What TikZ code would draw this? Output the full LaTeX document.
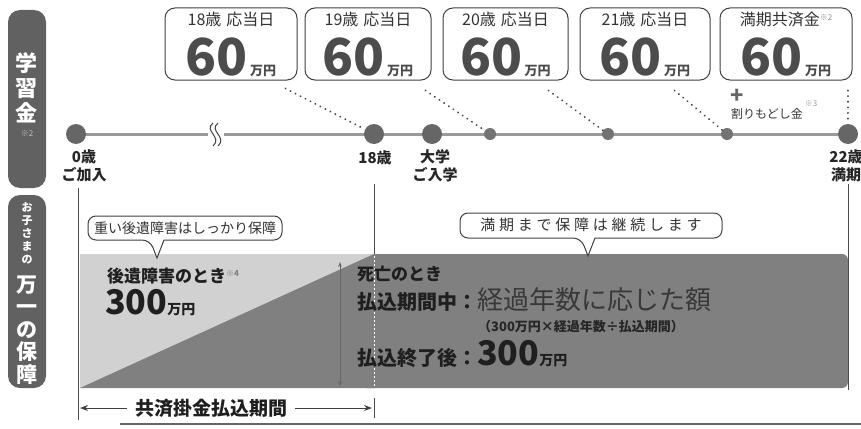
\documentclass[tikz,border=0pt]{standalone}
\usepackage{fontspec}
\setmainfont{Noto Sans CJK JP}
\usetikzlibrary{arrows.meta,backgrounds,calc}
\newcommand{\fs}[1]{\fontsize{#1}{#1}\selectfont}
\begin{document}
\begin{tikzpicture}[x=1pt,y=-1pt,
  tab/.style={fill=black!62, rounded corners=12pt},
  ybox/.style={draw=black!75, line width=1pt, rounded corners=10pt, fill=white, minimum height=72pt, inner sep=0},
  dot/.style={circle, fill=black!60, inner sep=0, minimum size=20pt},
  sdot/.style={circle, fill=black!55, inner sep=0, minimum size=12pt},
  dots/.style={black!75, line width=2pt, line cap=round, dash pattern=on 0.1pt off 5.5pt},
  vline/.style={black!70, line width=0.8pt},
  tl/.style={font=\fontsize{15}{18}\selectfont\bfseries, text=black!85, align=center, inner sep=0},
  bubble/.style={draw=black!75, line width=1pt, fill=white},
  boxlab/.style={font=\fs{16}, text=black!80, inner sep=0, text height=12pt, text depth=2pt},
  boxval/.style={inner sep=0, text=black!70, anchor=base, text height=36pt, text depth=0pt},
]
\useasboundingbox (0,0) rectangle (861,428);

% side tabs
\path[tab] (8,10) rectangle (46,188);
\node[font=\fontsize{22}{25}\selectfont\bfseries, text=white, align=center, inner sep=0] (tabA) at (27,88) {学\\習\\金};
\node[font=\fs{8}, text=black!25, inner sep=0] (tabAn) at (27,134) {※2};
\path[tab] (8,195) rectangle (46,388);
\node[font=\fontsize{11}{13}\selectfont\bfseries, text=white, align=center, inner sep=0] (tabB1) at (27,233) {お\\子\\さ\\ま\\の};
\node[font=\fontsize{21}{22.5}\selectfont\bfseries, text=white, align=center, inner sep=0] (tabB2) at (27,330) {万\\一\\の\\保\\障};

% top boxes
\node[ybox, minimum width=132pt] (b1) at (231,44) {};
\node[ybox, minimum width=126pt] (b2) at (368,44) {};
\node[ybox, minimum width=125pt] (b3) at (505.5,44) {};
\node[ybox, minimum width=130pt] (b4) at (645,44) {};
\node[ybox, minimum width=132pt] (b5) at (786,44) {};
\foreach \b/\t in {b1/18歳\hspace{5pt}応当日, b2/19歳\hspace{5pt}応当日, b3/20歳\hspace{5pt}応当日, b4/21歳\hspace{5pt}応当日}{
  \node[boxlab] (\b t) at ([yshift=-13pt]\b.north) {\t};
  \node[boxval] (\b v) at ([yshift=-31pt]\b.center) {\fs{51}\bfseries 60\fs{13}\,万円};
}
\node[boxlab] (b5t) at ([yshift=-13pt]b5.north) {満期共済金\raisebox{5pt}{\fs{8}\color{black!45}※2}};
\node[boxval] (b5v) at ([yshift=-31pt]b5.center) {\fs{51}\bfseries 60\fs{13}\,万円};

% timeline
\node[dot] (c0) at (76,134) {};
\node[dot] (c18) at (374,134) {};
\node[dot] (cU) at (432,134) {};
\node[sdot] (c19) at (490,134) {};
\node[sdot] (c20) at (608,134) {};
\node[sdot] (c21) at (727,134) {};
\node[dot] (c22) at (848,134) {};
\begin{scope}[on background layer]
  \draw[black!40, line width=3pt] (c0.center) -- (c22.center);
\end{scope}
\fill[white] (208,129) rectangle (224,139);
\draw[black!75, line width=1pt] (213,123) .. controls (203,131) and (223,137) .. (213,146);
\draw[black!75, line width=1pt] (218,123) .. controls (208,131) and (228,137) .. (218,146);

\node[tl] (l0) at (84,166) {0歳\\ご加入};
\node[tl] (l18) at (375,158) {18歳};
\node[tl] (lU) at (435,166) {大学\\ご入学};
\node[tl] (l22) at (846,166) {22歳\\満期};

% dotted connectors
\draw[dots] ([shift={(-12,8)}]b1.south east) -- (c18);
\draw[dots] ([shift={(-6,10)}]b2.south east) -- (c19);
\draw[dots] ([shift={(-20,10)}]b3.south east) -- (c20);
\draw[dots] ([shift={(-36,10)}]b4.south east) -- (c21);
\draw[dots] ($(c22 |- b5.south)+(0,10)$) -- (c22);
\node[font=\fs{22}\bfseries, text=black!60, inner sep=0] (plus) at (737,96) {+};
\node[font=\fs{12}, text=black!80, inner sep=0] (wari) at (767,114) {割りもどし金};
\node[font=\fs{8}, text=black!40, inner sep=0] (wari3) at (811,104) {※3};

% shaded coverage area
\fill[black!50, rounded corners=6pt] (360,254) rectangle (848,388);
\fill[black!18] (80,254) rectangle (374,388);
\fill[black!50] (80,388) -- (374,254) -- (374,388) -- cycle;
\draw[white, line width=1pt, dash pattern=on 2pt off 2pt] (374,256) -- (374,388);

% vertical guide lines
\draw[vline] (78,188) -- (78,420);
\draw[vline] (374,184) -- (374,254);
\draw[vline] (848,184) -- (848,390);

% bubbles
\draw[bubble] (157,258) -- (164,240) [rounded corners=8pt] -- (282,240) -- (282,216) -- (88,216) -- (88,240) -- (150,240) [sharp corners] -- cycle;
\node[font=\fs{14}, text=black!80, inner sep=0] (bub1) at (185,228) {重い後遺障害はしっかり保障};
\draw[bubble] (588,256) -- (595,238) [rounded corners=8pt] -- (722,238) -- (722,213) -- (460,213) -- (460,238) -- (581,238) [sharp corners] -- cycle;
\node[font=\fs{15}\addfontfeature{LetterSpace=25}, text=black!80, inner sep=0] (bub2) at (591,225) {満期まで保障は継続します};

% texts inside area
\node[anchor=west, font=\fs{17}\bfseries, text=black!88, inner sep=0] (kou) at (107,276) {後遺障害のとき\raisebox{6pt}{\fs{8}\color{black!50}※4}};
\node[anchor=west, inner sep=0, text=black!88] (k300) at (105,303) {\fs{34}\bfseries 300\fs{14}万円};
\node[anchor=west, font=\fs{17}\bfseries, text=black!88, inner sep=0] (shi) at (357,274) {死亡のとき};
\node[anchor=west, inner sep=0, text=black!88] (hara) at (357,300) {\fs{20}\bfseries 払込期間中：\fs{26}\mdseries\color{black!78}経過年数に応じた額};
\node[anchor=west, font=\fs{13}\bfseries, text=black!85, inner sep=0] (paren) at (478,327) {（300万円×経過年数÷払込期間）};
\node[anchor=west, inner sep=0, text=black!88] (owari) at (357,354) {\fs{20}\bfseries 払込終了後：\fs{34}300\fs{14}万円};

% vertical double arrow
\coordinate (arrT) at (340,262);
\coordinate (arrB) at (340,386);
\draw[black!60, line width=1pt, {Stealth[length=5pt]}-{Stealth[length=5pt]}] (arrT) -- (arrB);

% payment period arrow
\node[font=\fs{19}\bfseries, text=black!88, inner sep=0] (kake) at (211,408) {共済掛金払込期間};
\coordinate (pl) at (80,408);
\coordinate (pr) at (372,408);
\draw[black!75, line width=1pt, -{Stealth[length=8pt,width=6pt]}] ([xshift=-8pt]kake.west) -- (pl);
\draw[black!75, line width=1pt, -{Stealth[length=8pt,width=6pt]}] ([xshift=8pt]kake.east) -- (pr);
\draw[vline] (374,398) -- (374,418);

% bottom rule
\draw[black!60, line width=1.2pt] (120,424) -- (861,424);
\end{tikzpicture}
\end{document}
